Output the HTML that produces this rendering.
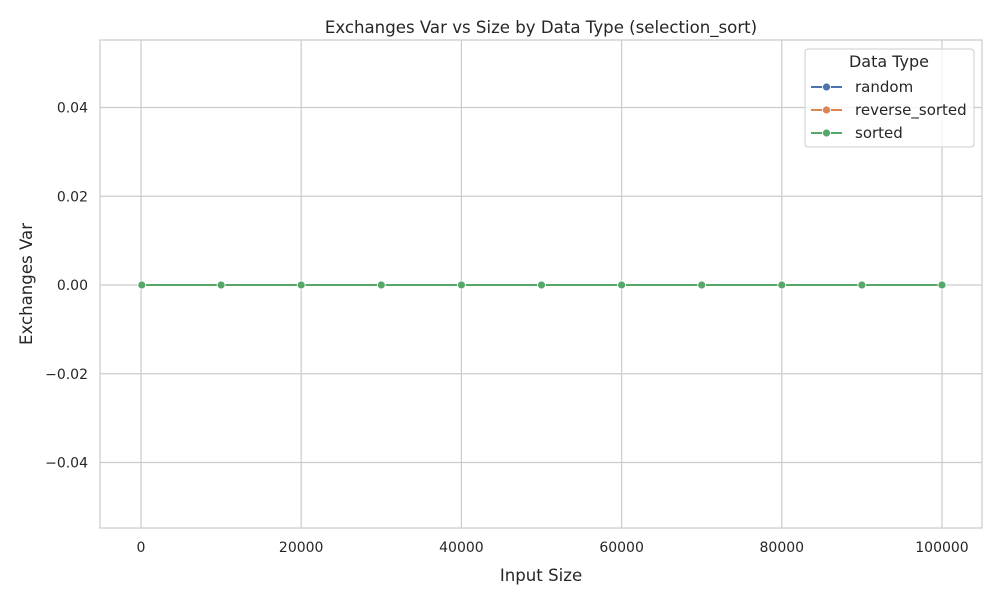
<!DOCTYPE html>
<html><head><meta charset="utf-8"><style>
body{margin:0;background:#fff;font-family:"Liberation Sans","DejaVu Sans",sans-serif;}
svg text{font-family:"DejaVu Sans","Liberation Sans",sans-serif;fill:#262626;}
</style></head><body>
<svg id="chart" width="1000" height="600" xmlns="http://www.w3.org/2000/svg">
<rect width="1000" height="600" fill="#fff"/>
<g id="grid"></g>
<rect x="100" y="40" width="882" height="488" fill="none" stroke="#ccc" stroke-width="1.25"/>
<g id="xt"></g>
<g id="yt"></g>
<g id="series"></g>
<text x="541" y="33" text-anchor="middle" font-size="16.6">Exchanges Var vs Size by Data Type (selection_sort)</text>
<text x="541" y="581" text-anchor="middle" font-size="16.6">Input Size</text>
<text x="32" y="284" text-anchor="middle" font-size="16.6" transform="rotate(-90 32 284)">Exchanges Var</text>
<g>
<rect x="805" y="49" width="169" height="98" rx="3" fill="#fff" fill-opacity="0.8" stroke="#ccc"/>
<text x="889" y="67" text-anchor="middle" font-size="16">Data Type</text>
<g id="leg"></g>
</g>
</svg>
<script>
const sizes=[100,10000,20000,30000,40000,50000,60000,70000,80000,90000,100000];
const seriesNames=["random","reverse_sorted","sorted"];
const seriesColors=["#4c72b0","#dd8452","#55a868"];
const randomVals=[0,0,0,0,0,0,0,0,0,0,0];
const reverseVals=[0,0,0,0,0,0,0,0,0,0,0];
const sortedVals=[0,0,0,0,0,0,0,0,0,0,0];
const xTicks=[0,20000,40000,60000,80000,100000];
const yTicks=[-0.04,-0.02,0,0.02,0.04];
const NS="http://www.w3.org/2000/svg";
const X=v=>141+(v/100000)*801;
const Y=v=>285-v*4437.5;
function mk(t,a,p){const e=document.createElementNS(NS,t);for(const k in a)e.setAttribute(k,a[k]);p.appendChild(e);return e;}
const grid=document.getElementById('grid'),xt=document.getElementById('xt'),yt=document.getElementById('yt');
xTicks.forEach(v=>{
 const l=mk('line',{x1:X(v),x2:X(v),y1:40,y2:528,stroke:'#ccc','stroke-width':1.25},grid);
 
 
 const t=mk('text',{x:X(v),y:552,'text-anchor':'middle','font-size':14},xt);t.textContent=v;
 
 
});
yTicks.forEach(v=>{
 const l=mk('line',{x1:100,x2:982,y1:Y(v),y2:Y(v),stroke:'#ccc','stroke-width':1.25},grid);
 
 
 const t=mk('text',{x:88,y:Y(v)+5,'text-anchor':'end','font-size':14},yt);t.textContent=(v<0?'\u2212':'')+Math.abs(v).toFixed(2);
 
 
});
const sg=document.getElementById('series');
[randomVals,reverseVals,sortedVals].forEach((vals,i)=>{
 const g=mk('g',{},sg);
 
 
 const p=mk('polyline',{points:sizes.map((s,j)=>X(s)+','+Y(vals[j])).join(' '),fill:'none',stroke:seriesColors[i],'stroke-width':2},g);
 
 
 sizes.forEach((s,j)=>{
  const c=mk('circle',{cx:X(s),cy:Y(vals[j]),r:4,fill:seriesColors[i],stroke:'#fff','stroke-width':0.8},g);
  
  
 });
});
const leg=document.getElementById('leg');
seriesNames.forEach((n,i)=>{
 const y=87+i*23;
 const g=mk('g',{},leg);
 
 
 mk('line',{x1:811,x2:842,y1:y,y2:y,stroke:seriesColors[i],'stroke-width':2},g);
 mk('circle',{cx:826.5,cy:y,r:4,fill:seriesColors[i],stroke:'#fff','stroke-width':0.8},g);
 const t=mk('text',{x:855,y:y+5,'font-size':15},g);t.textContent=n;
});
</script>
</body></html>
